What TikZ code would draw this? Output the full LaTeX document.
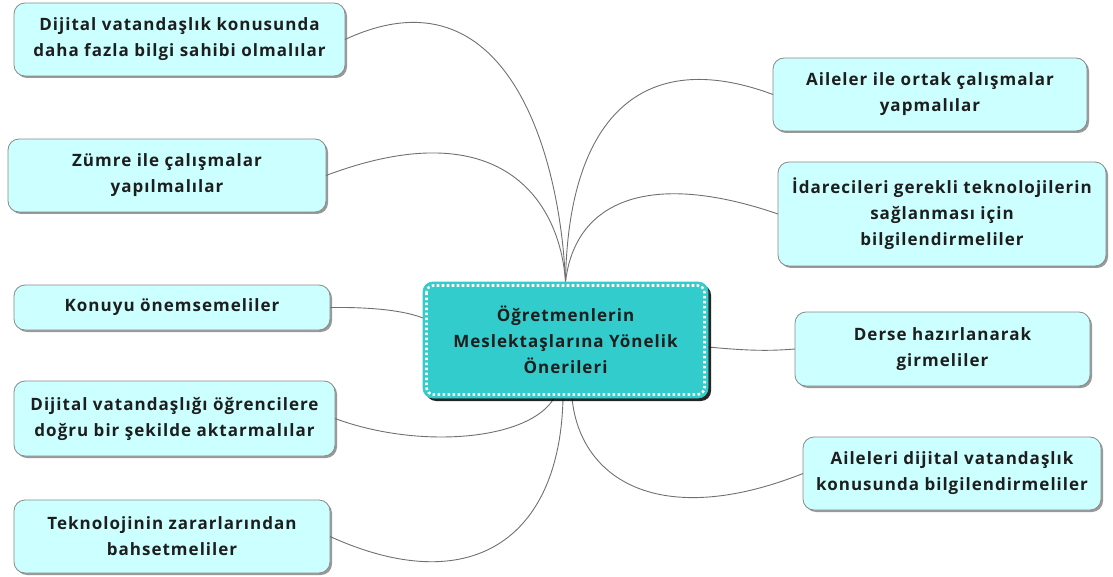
\documentclass[tikz,border=0pt]{standalone}
\usepackage{fontspec}
\setmainfont{Open Sans}[BoldFont={Open Sans Bold}, LetterSpace=6]
\usetikzlibrary{shadows}
\definecolor{boxfill}{HTML}{CCFFFF}
\definecolor{boxline}{HTML}{8A8A8A}
\definecolor{centfill}{HTML}{33CCCC}
\definecolor{txt}{HTML}{1E1E1E}
\definecolor{conn}{HTML}{707070}
\tikzset{
  idea/.style={draw=boxline, line width=0.8pt, fill=boxfill, rounded corners=11pt,
    inner sep=0pt, outer sep=0pt, align=center, text=txt,
    font=\fontsize{17}{26}\selectfont\bfseries,
    drop shadow={shadow xshift=2pt, shadow yshift=-2pt, fill=black, opacity=0.4}},
  hub/.style={fill=centfill, draw=centfill, line width=0.8pt, rounded corners=10pt,
    inner sep=0pt, outer sep=0pt,
    drop shadow={shadow xshift=3pt, shadow yshift=-3pt, fill=black, opacity=0.85}},
  hubtext/.style={align=center, text=txt, font=\fontsize{17}{26}\selectfont\bfseries},
  link/.style={draw=conn, line width=0.9pt}
}
\begin{document}
\begin{tikzpicture}[x=1pt,y=-1pt]
\useasboundingbox (0,0) rectangle (1113,577);
\coordinate (ct) at (565.5,282);
\coordinate (cb1) at (554,398);
\coordinate (cb2) at (563,398);
\coordinate (cb3) at (572,398);
\coordinate (cl) at (423,318);
\coordinate (cr) at (708,347);
\node[idea, minimum width=331pt, minimum height=73pt] (b1) at (179.5,39.5) {Dijital vatandaşlık konusunda\\daha fazla bilgi sahibi olmalılar};
\node[idea, minimum width=318pt, minimum height=73pt] (b2) at (167,175.5) {Zümre ile çalışmalar\\yapılmalılar};
\node[idea, minimum width=316pt, minimum height=45pt] (b3) at (172,307.5) {Konuyu önemsemeliler};
\node[idea, minimum width=321pt, minimum height=75pt] (b4) at (174.5,418.5) {Dijital vatandaşlığı öğrencilere\\doğru bir şekilde aktarmalılar};
\node[idea, minimum width=316pt, minimum height=73pt] (b5) at (172,536.5) {Teknolojinin zararlarından\\bahsetmeliler};
\node[idea, minimum width=314pt, minimum height=73pt] (b6) at (930,94.5) {Aileler ile ortak çalışmalar\\yapmalılar};
\node[idea, minimum width=328pt, minimum height=104pt] (b7) at (942,214) {İdarecileri gerekli teknolojilerin\\sağlanması için\\bilgilendirmeliler};
\node[idea, minimum width=295pt, minimum height=74pt] (b8) at (942.5,349) {Derse hazırlanarak\\girmeliler};
\node[idea, minimum width=298pt, minimum height=73pt] (b9) at (952,473.5) {Aileleri dijital vatandaşlık\\konusunda bilgilendirmeliler};
\draw[link] (ct) .. controls (560,150) and (505,-35) .. (b1.east);
\draw[link] (ct) .. controls (560,200) and (500,110) .. (b2.east);
\draw[link] (ct) .. controls (568,120) and (640,45) .. (b6.west);
\draw[link] (ct) .. controls (575,200) and (650,170) .. (b7.west);
\draw[link] (cb1) .. controls (530,440) and (420,450) .. (b4.east);
\draw[link] (cb2) .. controls (560,540) and (470,600) .. (b5.east);
\draw[link] (cb3) .. controls (580,480) and (660,530) .. (b9.west);
\draw[link] (b3.east) .. controls (375,307) and (405,311) .. (cl);
\draw[link] (cr) .. controls (750,351) and (770,351) .. (b8.west);
\node[hub, minimum width=285pt, minimum height=116pt] (c) at (565.5,340) {};
\draw[white, line width=2.6pt, dash pattern=on 2.6pt off 2.4pt, rounded corners=7pt]
  ([xshift=3.5pt,yshift=-3.5pt]c.north west) rectangle ([xshift=-3.5pt,yshift=3.5pt]c.south east);
\node[hubtext] (ctext) at (c.center) {Öğretmenlerin\\Meslektaşlarına Yönelik\\Önerileri};
\end{tikzpicture}
\end{document}
